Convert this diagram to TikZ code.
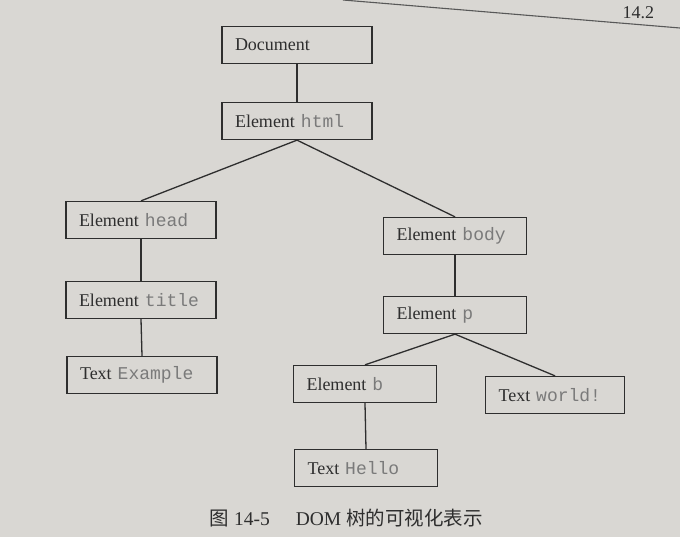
\documentclass[tikz,border=0pt]{standalone}
\usepackage{fontspec}
\setmainfont{Liberation Serif}
\setmonofont{Liberation Mono}
\newfontfamily\cjk{Noto Sans CJK SC}
\definecolor{paper}{HTML}{D9D7D3}
\definecolor{ink}{HTML}{2E2E2E}
\definecolor{codegray}{HTML}{7A7A7A}
\begin{document}
\begin{tikzpicture}[x=1pt,y=-1pt,
  domnode/.style={draw=ink, line width=1.3pt, rectangle, minimum height=37pt,
    inner xsep=13pt, text width=122pt, align=left, font=\fontsize{18}{20}\selectfont, text=ink},
  widebox/.style={domnode, text width=124pt},
  narrowbox/.style={domnode, text width=117pt},
  link/.style={draw=ink, line width=1.3pt}]
\fill[paper] (0,0) rectangle (680,537);
\useasboundingbox (0,0) rectangle (680,537);
% page header
\draw[ink!80, line width=1.1pt] (343,0) -- (680,28);
\node[anchor=west, font=\fontsize{18}{20}\selectfont, text=ink] (sec) at (619,13) {14.2};
% nodes
\node[widebox] (doc)   at (297,45)  {Document};
\node[widebox] (html)  at (297,121) {Element \textcolor{codegray}{\texttt{html}}};
\node[widebox] (head)  at (141,220) {Element \textcolor{codegray}{\texttt{head}}};
\node[widebox] (title) at (141,300) {Element \textcolor{codegray}{\texttt{title}}};
\node[widebox] (ex)    at (142,375) {Text \textcolor{codegray}{\texttt{Example}}};
\node[narrowbox] (body) at (455,236) {Element \textcolor{codegray}{\texttt{body}}};
\node[narrowbox] (p)    at (455,315) {Element \textcolor{codegray}{\texttt{p}}};
\node[narrowbox] (b)    at (365,384) {Element \textcolor{codegray}{\texttt{b}}};
\node[domnode, text width=113pt] (world) at (555,395) {Text \textcolor{codegray}{\texttt{world!}}};
\node[narrowbox] (hello) at (366,468) {Text \textcolor{codegray}{\texttt{Hello}}};
% connectors
\draw[link] (doc.south) -- (html.north);
\draw[link] (html.south) -- (head.north);
\draw[link] (html.south) -- (body.north);
\draw[link] (head.south) -- (title.north);
\draw[link] (title.south) -- (ex.north);
\draw[link] (body.south) -- (p.north);
\draw[link] (p.south) -- (b.north);
\draw[link] (p.south) -- (world.north);
\draw[link] (b.south) -- (hello.north);
% caption
\node[anchor=west, text=ink, font=\fontsize{19.5}{21}\selectfont] (cap) at (206,518)
  {{\cjk 图}\hspace{5pt}14-5\hspace{26pt}DOM {\cjk 树的可视化表示}};
\end{tikzpicture}
\end{document}
